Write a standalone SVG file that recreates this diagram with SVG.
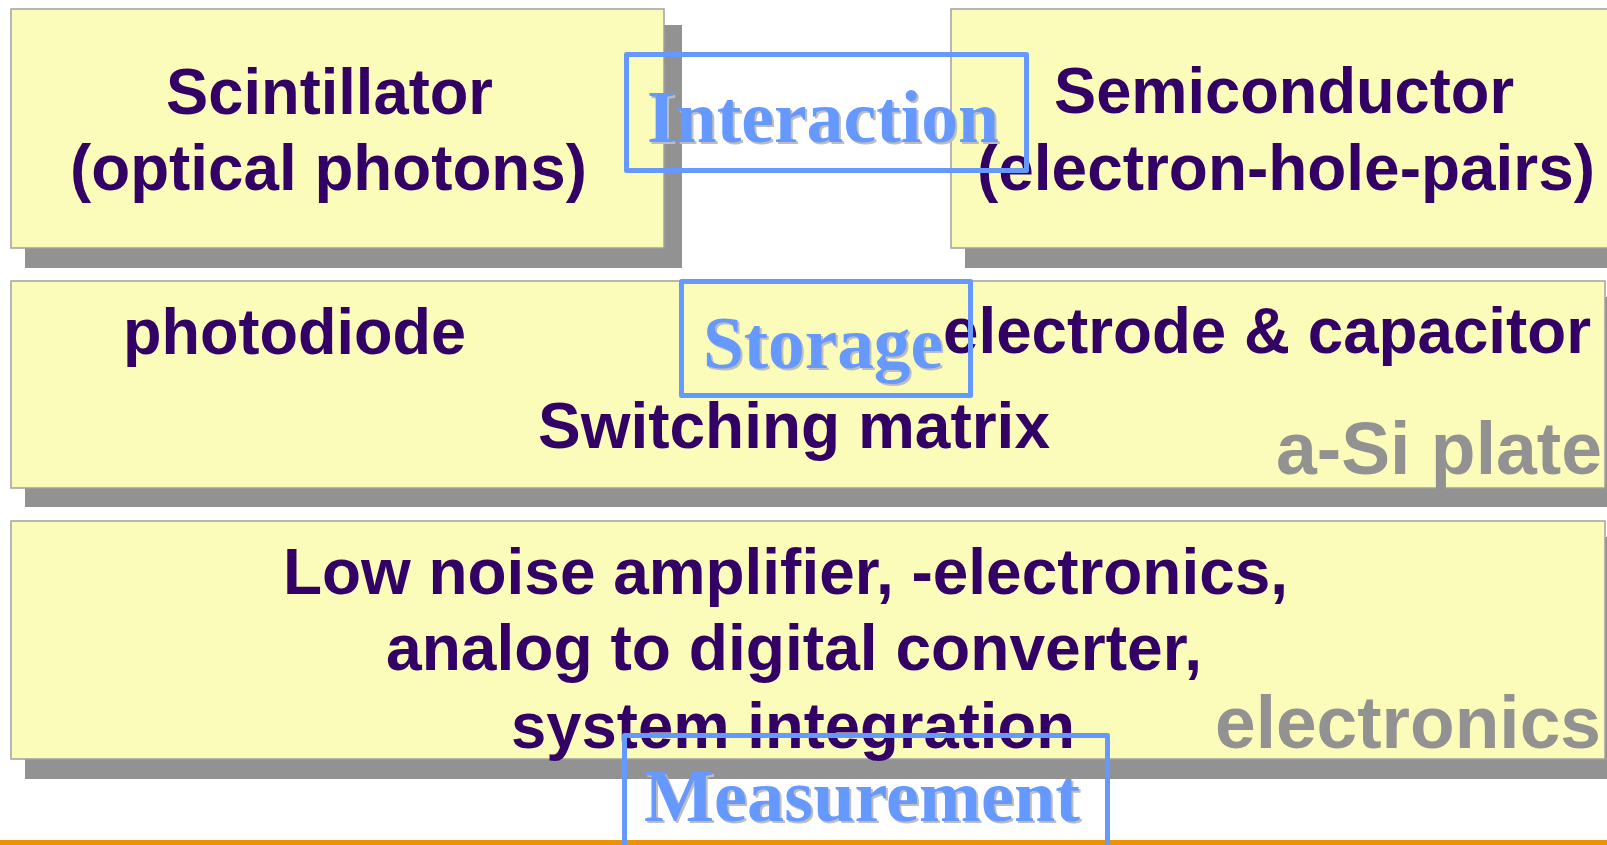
<svg xmlns="http://www.w3.org/2000/svg" width="1607" height="845" viewBox="0 0 1607 845">
<style>
.box{fill:#FCFCBA;stroke:#A0A0A0;stroke-width:1.5}
.shadow{fill:#929292}
.t{font-family:"Liberation Sans",Arial,sans-serif;font-weight:bold;font-size:65px;fill:#330066}
.g{font-family:"Liberation Sans",Arial,sans-serif;font-weight:bold;font-size:75px;fill:#929292}
.b{font-family:"Liberation Serif","Times New Roman",serif;font-weight:bold;font-size:75px;fill:#6699FF}
.bs{font-family:"Liberation Serif","Times New Roman",serif;font-weight:bold;font-size:75px;fill:#BDBDBD}
.frame{fill:none;stroke:#6699FF;stroke-width:5;stroke-linejoin:round}
</style>
<rect x="0" y="0" width="1607" height="845" fill="#FFFFFF"/>
<rect x="0" y="840" width="1607" height="5" fill="#EE9100"/>

<g id="scintillator">
  <rect class="shadow" x="25" y="25" width="657" height="243"/>
  <rect class="box" x="11" y="9" width="653" height="239"/>
  <text class="t" x="166" y="114" textLength="327" lengthAdjust="spacingAndGlyphs">Scintillator</text>
  <text class="t" x="70" y="190" textLength="517" lengthAdjust="spacingAndGlyphs">(optical photons)</text>
</g>

<g id="semiconductor">
  <rect class="shadow" x="965" y="25" width="660" height="243"/>
  <rect class="box" x="951" y="9" width="680" height="239"/>
  <text class="t" x="1054" y="113" textLength="460" lengthAdjust="spacingAndGlyphs">Semiconductor</text>
  <text class="t" x="977" y="190" textLength="618" lengthAdjust="spacingAndGlyphs">(electron-hole-pairs)</text>
</g>

<g id="asi-plate">
  <rect class="shadow" x="25" y="297" width="1600" height="210"/>
  <rect class="box" x="11" y="281" width="1594" height="207"/>
  <text class="t" x="123" y="354" textLength="343" lengthAdjust="spacingAndGlyphs">photodiode</text>
  <text class="t" x="943" y="353" textLength="648" lengthAdjust="spacingAndGlyphs">electrode &amp; capacitor</text>
  <text class="t" x="538" y="448" textLength="512" lengthAdjust="spacingAndGlyphs">Switching matrix</text>
  <text class="g" x="1276" y="474" textLength="326" lengthAdjust="spacingAndGlyphs">a-Si plate</text>
</g>

<g id="electronics">
  <rect class="shadow" x="25" y="537" width="1600" height="242"/>
  <rect class="box" x="11" y="521" width="1594" height="238"/>
  <text class="t" x="283" y="594" textLength="1005" lengthAdjust="spacingAndGlyphs">Low noise amplifier, -electronics,</text>
  <text class="t" x="386" y="670" textLength="816" lengthAdjust="spacingAndGlyphs">analog to digital converter,</text>
  <text class="t" x="511" y="748" textLength="564" lengthAdjust="spacingAndGlyphs">system integration</text>
  <text class="g" x="1215" y="748" textLength="386" lengthAdjust="spacingAndGlyphs">electronics</text>
</g>

<g id="interaction">
  <text class="bs" x="649" y="144" textLength="352" lengthAdjust="spacingAndGlyphs">Interaction</text>
  <text class="b" x="647" y="142" textLength="352" lengthAdjust="spacingAndGlyphs">Interaction</text>
  <rect class="frame" x="626.5" y="54.5" width="400" height="116"/>
</g>

<g id="storage">
  <text class="bs" x="705" y="370" textLength="240" lengthAdjust="spacingAndGlyphs">Storage</text>
  <text class="b" x="703" y="368" textLength="240" lengthAdjust="spacingAndGlyphs">Storage</text>
  <rect class="frame" x="681.5" y="281.5" width="289" height="114"/>
</g>

<g id="measurement">
  <text class="bs" x="646" y="823" textLength="436" lengthAdjust="spacingAndGlyphs">Measurement</text>
  <text class="b" x="644" y="821" textLength="436" lengthAdjust="spacingAndGlyphs">Measurement</text>
  <rect class="frame" x="624.5" y="735.5" width="483" height="130"/>
</g>

<g id="connectors"/>
</svg>
